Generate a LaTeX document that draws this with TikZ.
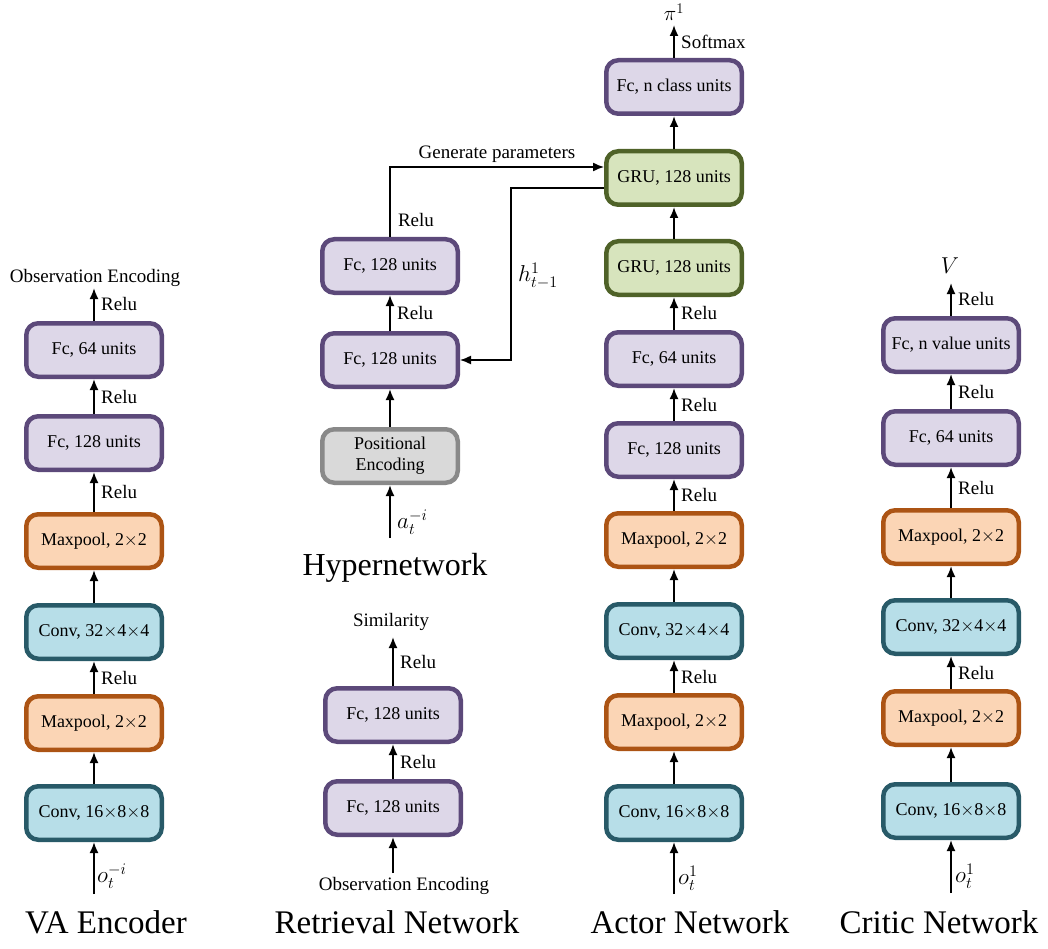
\RequirePackage{fix-cm}
\documentclass[tikz,border=0pt]{standalone}
\usepackage{fontspec}
\setmainfont{Liberation Serif}
\usetikzlibrary{arrows.meta}

\definecolor{fcfill}{RGB}{221,215,232}
\definecolor{fcline}{RGB}{92,73,122}
\definecolor{convfill}{RGB}{183,222,232}
\definecolor{convline}{RGB}{40,90,104}
\definecolor{poolfill}{RGB}{251,213,181}
\definecolor{poolline}{RGB}{172,84,20}
\definecolor{grufill}{RGB}{215,228,189}
\definecolor{gruline}{RGB}{79,98,40}
\definecolor{posfill}{RGB}{217,217,217}
\definecolor{posline}{RGB}{137,137,137}

\tikzset{
  layer/.style={rounded corners=12pt, line width=4.5pt, minimum width=135.5pt,
    minimum height=53.5pt, inner sep=0pt, align=center,
    font=\fontsize{18}{21}\selectfont},
  fcbox/.style={layer, draw=fcline, fill=fcfill},
  convbox/.style={layer, draw=convline, fill=convfill},
  poolbox/.style={layer, draw=poolline, fill=poolfill},
  grubox/.style={layer, draw=gruline, fill=grufill},
  posbox/.style={layer, draw=posline, fill=posfill},
  flow/.style={->, line width=1.8pt},
  link/.style={->, line width=1.4pt},
  lbl/.style={font=\fontsize{19}{22}\selectfont},
  relu/.style={lbl, right, xshift=3pt},
  mlbl/.style={font=\fontsize{23}{26}\selectfont, inner sep=1pt},
  title/.style={font=\fontsize{33}{38}\selectfont},
  >={Latex[length=11pt,width=9pt]}
}

\begin{document}
\begin{tikzpicture}[x=1pt,y=-1pt]
  \useasboundingbox (0,0) rectangle (1048,949);

  % VA encoder
  \node[convbox] (va1) at (94,813) {Conv, 16$\times$8$\times$8};
  \node[poolbox] (va2) at (94,723) {Maxpool, 2$\times$2};
  \node[convbox] (va3) at (94,632) {Conv, 32$\times$4$\times$4};
  \node[poolbox] (va4) at (94,541) {Maxpool, 2$\times$2};
  \node[fcbox]   (va5) at (94,443) {Fc, 128 units};
  \node[fcbox]   (va6) at (94,350) {Fc, 64 units};
  \coordinate (vain) at (94,894);
  \coordinate (vaout) at (94,288);
  \draw[flow] (vain) -- (va1.south);
  \draw[flow] (va1.north) -- (va2.south);
  \draw[flow] (va2.north) -- (va3.south) node[midway,relu] (varelu1) {Relu};
  \draw[flow] (va3.north) -- (va4.south);
  \draw[flow] (va4.north) -- (va5.south) node[midway,relu] (varelu2) {Relu};
  \draw[flow] (va5.north) -- (va6.south) node[midway,relu] (varelu3) {Relu};
  \draw[flow] (va6.north) -- (vaout) node[midway,relu] (varelu4) {Relu};
  \node[lbl,anchor=base] (vaoutlbl) at (95,283) {Observation Encoding};
  \node[mlbl,anchor=west] (vainlbl) at (96,876) {$o_t^{-i}$};
  \node[title,anchor=base] (vatitle) at (106,933) {VA Encoder};

  % hypernetwork
  \node[posbox] (hpos) at (390,456) {Positional\\Encoding};
  \node[fcbox]  (hfc1) at (390,360) {Fc, 128 units};
  \node[fcbox]  (hfc2) at (390,266) {Fc, 128 units};
  \coordinate (hin) at (390,538);
  \draw[flow] (hin) -- (hpos.south);
  \draw[flow] (hpos.north) -- (hfc1.south);
  \draw[flow] (hfc1.north) -- (hfc2.south) node[midway,relu] (hrelu1) {Relu};
  \node[mlbl,anchor=west] (hinlbl) at (396,522) {$a_t^{-i}$};
  \node[lbl] (hrelu2) at (416,220) {Relu};
  \node[title,anchor=base,font=\fontsize{32}{36}\selectfont] (htitle) at (395,575) {Hypernetwork};

  % retrieval network
  \node[fcbox] (rfc1) at (393,808) {Fc, 128 units};
  \node[fcbox] (rfc2) at (393,715) {Fc, 128 units};
  \coordinate (rin) at (393,873);
  \coordinate (rout) at (393,637);
  \draw[flow] (rin) -- (rfc1.south);
  \draw[flow] (rfc1.north) -- (rfc2.south) node[midway,relu] (rrelu1) {Relu};
  \draw[flow] (rfc2.north) -- (rout) node[midway,relu] (rrelu2) {Relu};
  \node[lbl,anchor=base] (routlbl) at (391,626) {Similarity};
  \node[lbl,anchor=base] (rinlbl) at (404,890) {Observation Encoding};
  \node[title,anchor=base] (rtitle) at (397,933) {Retrieval Network};

  % actor network
  \node[convbox] (a1) at (674,813) {Conv, 16$\times$8$\times$8};
  \node[poolbox] (a2) at (674,722) {Maxpool, 2$\times$2};
  \node[convbox] (a3) at (674,631) {Conv, 32$\times$4$\times$4};
  \node[poolbox] (a4) at (674,540) {Maxpool, 2$\times$2};
  \node[fcbox]   (a5) at (674,450) {Fc, 128 units};
  \node[fcbox]   (a6) at (674,359) {Fc, 64 units};
  \node[grubox]  (a7) at (674,268) {GRU, 128 units};
  \node[grubox]  (a8) at (674,178) {GRU, 128 units};
  \node[fcbox]   (a9) at (674,87) {Fc, n class units};
  \coordinate (ain) at (674,894);
  \coordinate (aout) at (674,25);
  \draw[flow] (ain) -- (a1.south);
  \draw[flow] (a1.north) -- (a2.south);
  \draw[flow] (a2.north) -- (a3.south) node[midway,relu] (arelu1) {Relu};
  \draw[flow] (a3.north) -- (a4.south);
  \draw[flow] (a4.north) -- (a5.south) node[midway,relu] (arelu2) {Relu};
  \draw[flow] (a5.north) -- (a6.south) node[midway,relu] (arelu3) {Relu};
  \draw[flow] (a6.north) -- (a7.south) node[midway,relu] (arelu4) {Relu};
  \draw[flow] (a7.north) -- (a8.south);
  \draw[flow] (a8.north) -- (a9.south);
  \draw[flow] (a9.north) -- (aout) node[midway,relu] (asoftmax) {Softmax};
  \node[mlbl,anchor=base,font=\fontsize{21}{24}\selectfont] (aoutlbl) at (674,21) {$\pi^1$};
  \node[mlbl,anchor=west] (ainlbl) at (677,878) {$o_t^1$};
  \node[title,anchor=base] (atitle) at (690,933) {Actor Network};

  % hypernetwork <-> actor
  \coordinate (hturn) at (511,188);
  \draw[link] (hfc2.north) |- ([yshift=11pt]a8.west)
    node[pos=0.75,above,lbl] (genlbl) {Generate parameters};
  \draw[link] ([yshift=-10pt]a8.west) -- (hturn) |- (hfc1.east);
  \node[mlbl] (hlbl) at (538,276) {$h_{t-1}^1$};

  % critic network
  \node[convbox] (c1) at (951,811) {Conv, 16$\times$8$\times$8};
  \node[poolbox] (c2) at (951,718) {Maxpool, 2$\times$2};
  \node[convbox] (c3) at (951,627) {Conv, 32$\times$4$\times$4};
  \node[poolbox] (c4) at (951,537) {Maxpool, 2$\times$2};
  \node[fcbox]   (c5) at (951,438) {Fc, 64 units};
  \node[fcbox]   (c6) at (951,345) {Fc, n value units};
  \coordinate (cin) at (951,893);
  \coordinate (cout) at (951,283);
  \draw[flow] (cin) -- (c1.south);
  \draw[flow] (c1.north) -- (c2.south);
  \draw[flow] (c2.north) -- (c3.south) node[midway,relu] (crelu1) {Relu};
  \draw[flow] (c3.north) -- (c4.south);
  \draw[flow] (c4.north) -- (c5.south) node[midway,relu] (crelu2) {Relu};
  \draw[flow] (c5.north) -- (c6.south) node[midway,relu] (crelu3) {Relu};
  \draw[flow] (c6.north) -- (cout) node[midway,relu] (crelu4) {Relu};
  \node[mlbl,anchor=base] (coutlbl) at (950,273) {$V$};
  \node[mlbl,anchor=west] (cinlbl) at (954,876) {$o_t^1$};
  \node[title,anchor=base] (ctitle) at (939,933) {Critic Network};
\end{tikzpicture}
\end{document}
